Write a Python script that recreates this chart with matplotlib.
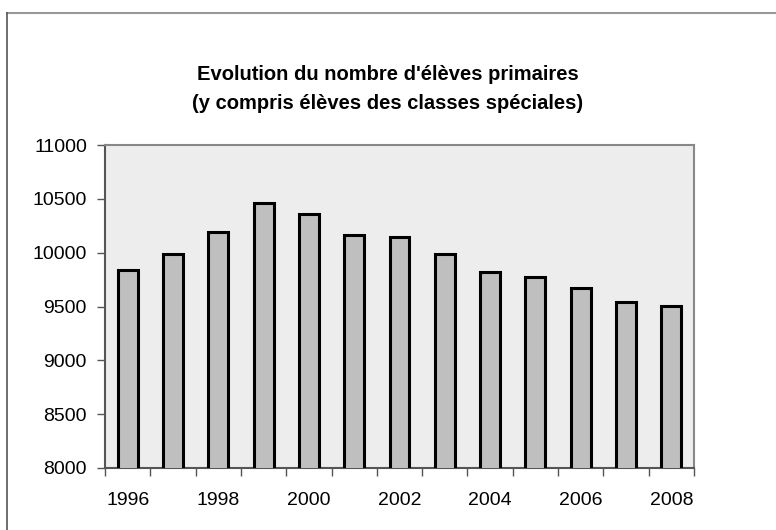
import matplotlib
matplotlib.use("Agg")
import matplotlib.pyplot as plt
from matplotlib.lines import Line2D
import numpy as np

plt.rcParams['font.family'] = ['Liberation Sans', 'DejaVu Sans']

# données
annees = [1996, 1997, 1998, 1999, 2000, 2001, 2002, 2003, 2004, 2005, 2006, 2007, 2008]
eleves = [9840, 9985, 10190, 10465, 10355, 10168, 10150, 9983, 9818, 9770, 9672, 9538, 9505]
etiquettes = ['1996', '', '1998', '', '2000', '', '2002', '', '2004', '', '2006', '', '2008']
titre = "Evolution du nombre d'élèves primaires\n(y compris élèves des classes spéciales)"

fig = plt.figure(figsize=(7.76, 5.30), dpi=100)
ax = fig.add_axes([105 / 776, 1 - 468 / 530, 589 / 776, 323 / 530])
ax.set_facecolor('#ededed')

x = np.arange(len(annees))
ax.bar(x, eleves, width=0.44, color='#bfbfbf', edgecolor='black', linewidth=2.2, zorder=3)

ax.set_xlim(-0.5, len(annees) - 0.5)
ax.set_ylim(8000, 11000)
ax.set_yticks(np.arange(8000, 11001, 500))
ax.tick_params(axis='y', labelsize=14, length=6, width=1, color='#555555', pad=7)

# étiquettes au centre, graduations aux limites des catégories
ax.set_xticks(x)
ax.set_xticklabels(etiquettes)
ax.tick_params(axis='x', which='major', length=0, labelsize=14, pad=17)
ax.set_xticks(np.arange(-0.5, len(annees)), minor=True)
ax.tick_params(axis='x', which='minor', length=6, width=1, color='#555555')

for side in ['top', 'right']:
    ax.spines[side].set_color('#888888')
    ax.spines[side].set_linewidth(1.5)
for side in ['left', 'bottom']:
    ax.spines[side].set_color('#555555')
    ax.spines[side].set_linewidth(1.5)

fig.text(0.5, 1 - 89 / 530, titre, ha='center', va='center', fontsize=14.5,
         fontweight='bold', linespacing=1.65)

# cadre du graphique
fig.add_artist(Line2D([7 / 776, 1], [1 - 13 / 530, 1 - 13 / 530], color='#999999', lw=1.5))
fig.add_artist(Line2D([7 / 776, 7 / 776], [0, 1 - 13 / 530], color='#555555', lw=1.2))

fig.savefig('out.png', dpi=100)
